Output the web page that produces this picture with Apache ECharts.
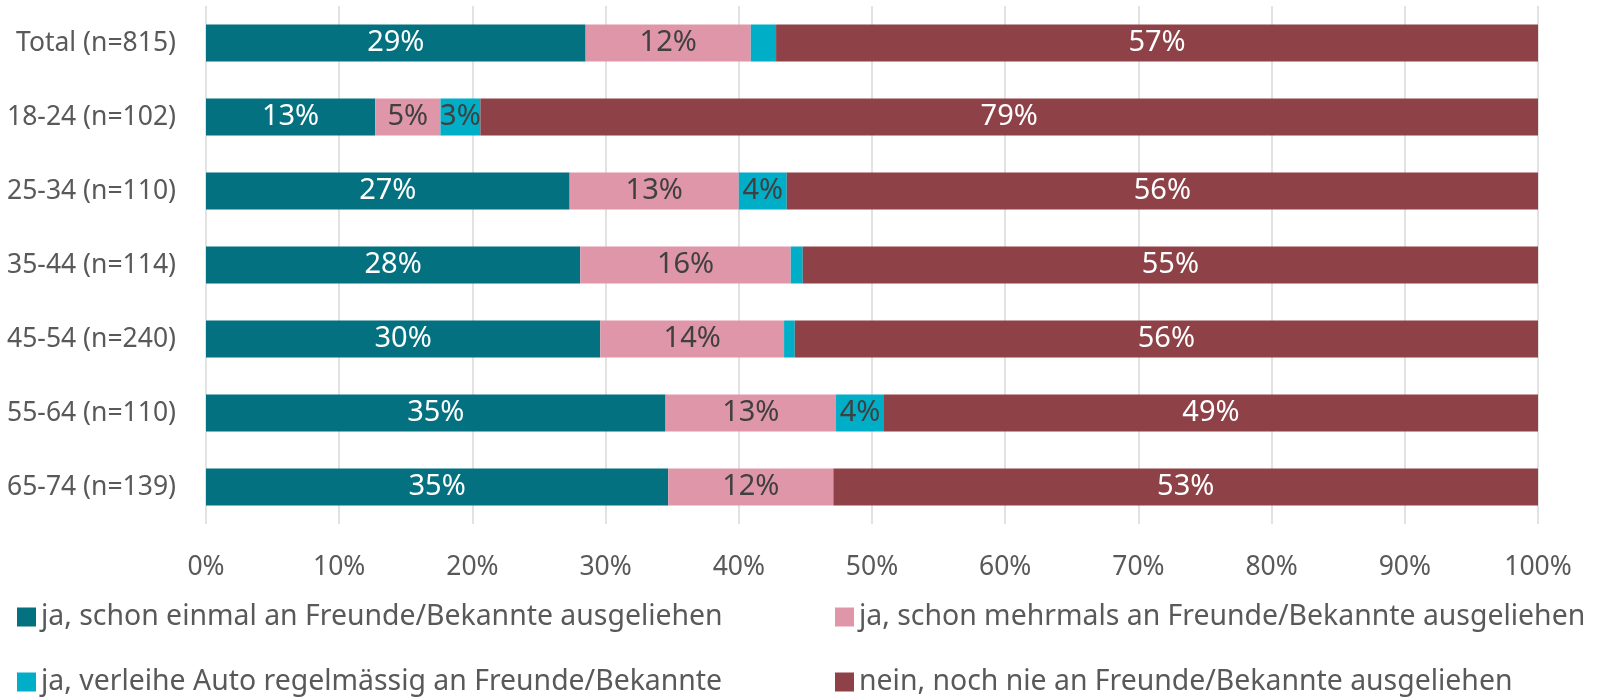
<!DOCTYPE html>
<html>
<head>
<meta charset="utf-8">
<script src="https://cdn.jsdelivr.net/npm/echarts@6/dist/echarts.min.js"></script>
<style>
  html, body { margin: 0; padding: 0; background: #fff; }
  #chart { width: 1599px; height: 700px; }
</style>
</head>
<body>
<div id="chart"></div>
<script>
var categories = ['Total (n=815)', '18-24 (n=102)', '25-34 (n=110)', '35-44 (n=114)', '45-54 (n=240)', '55-64 (n=110)', '65-74 (n=139)'];
var seriesNames = [
    'ja, schon einmal an Freunde/Bekannte ausgeliehen',
    'ja, schon mehrmals an Freunde/Bekannte ausgeliehen',
    'ja, verleihe Auto regelmässig an Freunde/Bekannte',
    'nein, noch nie an Freunde/Bekannte ausgeliehen'
];
var einmal    = [28.5, 12.7, 27.3, 28.1, 29.6, 34.5, 34.7];
var mehrmals  = [12.4, 4.9, 12.7, 15.8, 13.8, 12.8, 12.4];
var regel     = [1.9, 3.0, 3.6, 0.9, 0.8, 3.6, 0];
var nie       = [57.2, 79.4, 56.4, 55.2, 55.8, 49.1, 52.9];
var xTicks = [0, 10, 20, 30, 40, 50, 60, 70, 80, 90, 100];

var colors = ['#03717F', '#E096A9', '#01AEC7', '#8E4147'];
var labelColors = ['#ffffff', '#404040', '#404040', '#ffffff'];
var FONT = '"Noto Sans", sans-serif';

var chart = echarts.init(document.getElementById('chart'));

var values = [einmal, mehrmals, regel, nie];
var series = values.map((data, i) => {
    return {
        name: seriesNames[i],
        type: 'bar',
        stack: 'all',
        data: data,
        barWidth: '50%',
        itemStyle: { color: colors[i] },
        label: {
            show: true,
            position: 'inside',
            color: labelColors[i],
            fontFamily: FONT,
            fontSize: 29,
            formatter: p => p.value >= 2.5 ? Math.round(p.value) + '%' : ''
        },
        emphasis: { disabled: true }
    }
});

// legend boxes, two columns
var legendPos = [
    { left: 17, top: 603 },
    { left: 835, top: 603 },
    { left: 17, top: 668 },
    { left: 835, top: 668 }
];

chart.setOption({
    animation: false,
    grid: { left: 206, right: 61, top: 6, height: 518, containLabel: false },
    xAxis: {
        type: 'value',
        min: 0,
        max: 100,
        interval: 10,
        axisLine: { show: false },
        axisTick: { show: false },
        splitLine: { show: true, lineStyle: { color: '#D9D9D9', width: 1.5 } },
        axisLabel: {
            formatter: v => xTicks.indexOf(v) >= 0 ? v + '%' : '',
            color: '#595959',
            fontFamily: FONT,
            fontSize: 26.5,
            margin: 30
        }
    },
    yAxis: {
        type: 'category',
        data: categories,
        inverse: true,
        axisLine: { show: false },
        axisTick: { show: false },
        axisLabel: {
            color: '#595959',
            fontFamily: FONT,
            fontSize: 26.5,
            margin: 30
        }
    },
    legend: seriesNames.map((name, i) => ({
        data: [name],
        left: legendPos[i].left,
        top: legendPos[i].top,
        padding: 0,
        icon: 'rect',
        itemWidth: 19,
        itemHeight: 19,
        selectedMode: false,
        textStyle: { color: '#595959', fontFamily: FONT, fontSize: 28.4 }
    })),
    series: series
});

window.addEventListener('resize', function () {
    chart.resize();
})
</script>
</body>
</html>
